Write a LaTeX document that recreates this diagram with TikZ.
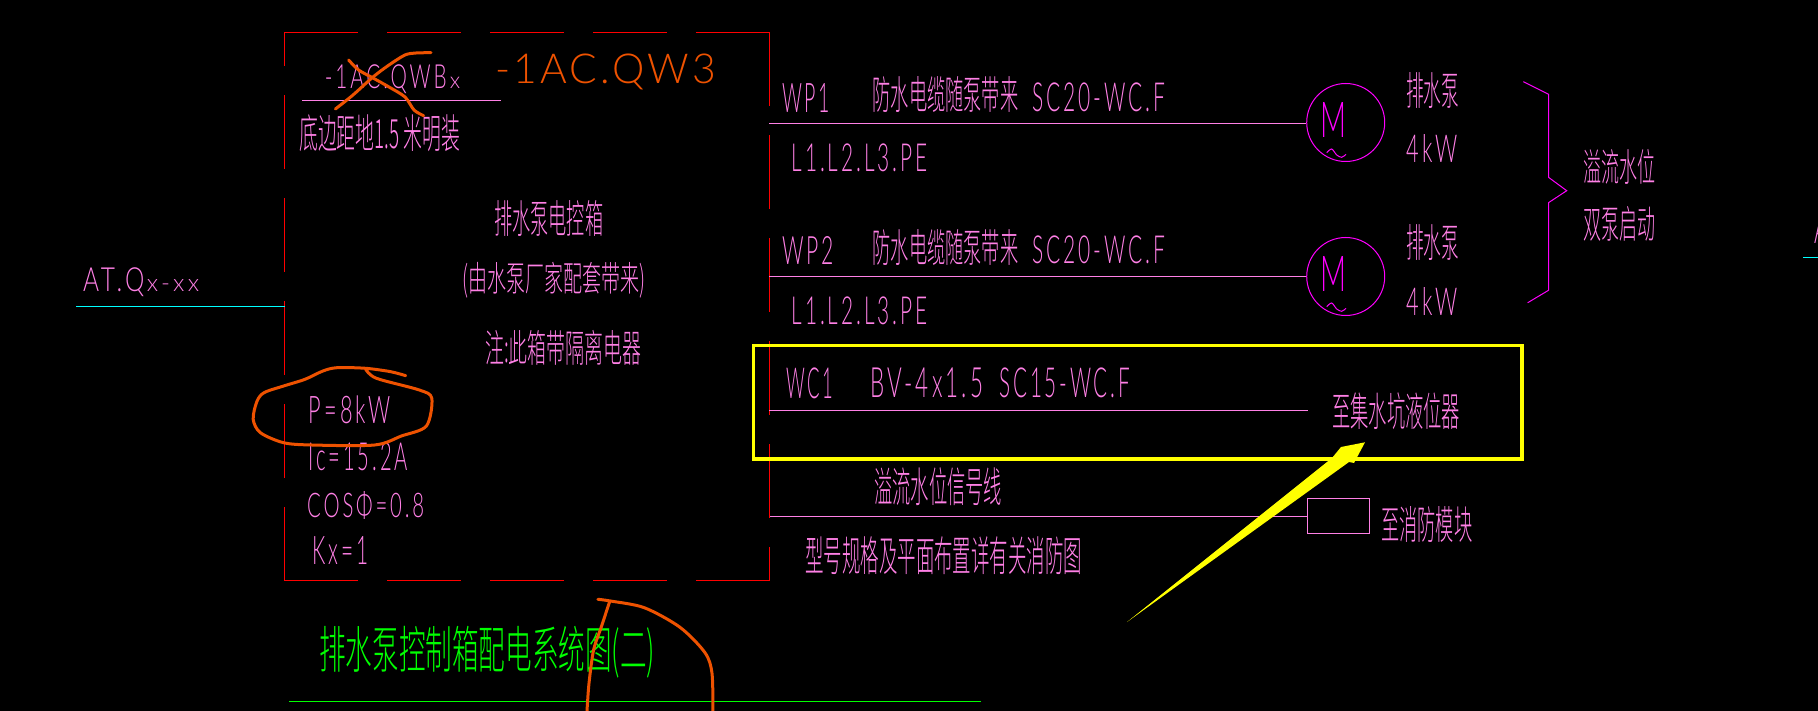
\documentclass[tikz,border=0pt]{standalone}
\usepackage{graphicx}
\usepackage{fontspec}
\setmainfont{Lato Light}[LetterSpace=14]
\newfontfamily\cjk{Noto Sans CJK SC Light}
\newfontfamily\tagfont{Lato Light}[LetterSpace=8]
\newfontfamily\onechar{Lato Light}
\usetikzlibrary{positioning}
\definecolor{cadpink}{HTML}{FF80E6}
\definecolor{cadmag}{HTML}{FF00FF}
\definecolor{cadorange}{HTML}{EE5200}
\definecolor{cadcyan}{HTML}{00FFFF}
\definecolor{cadyellow}{HTML}{FFFF00}
\definecolor{cadgreen}{HTML}{00FF00}
\newcommand{\cadfit}[3]{\resizebox*{#1pt}{#2pt}{#3}}
\tikzset{
  cad/.style={anchor=west,inner sep=0pt,text=cadpink},
  wire/.style={draw=cadpink,line width=1pt},
  boxline/.style={draw=red,line width=1pt,dash pattern=on 73.5pt off 29.5pt},
  motor/.style={circle,draw=cadmag,line width=1pt,minimum size=78pt,inner sep=0pt},
  scribble/.style={draw=cadorange,line width=3pt,line join=round,line cap=round}
}
\begin{document}
\begin{tikzpicture}[x=1pt,y=-1pt]
        \fill[black] (0,0) rectangle (1818,711);
        \useasboundingbox (0,0) rectangle (1818,711);
        % box
        \path
        +(527,306.5) node[minimum width=485pt,minimum height=548pt,inner sep=0pt] (box) {}
        +(76,306.5) coordinate (feedstart)
        +(284.5,306.5) coordinate (feedend)
        +(302,100.5) coordinate (tagstart)
        +(500.7,100.5) coordinate (tagend)
        +(769,123.5) coordinate (wpastart)
        +(769,276.5) coordinate (wpbstart)
        +(769,410.5) coordinate (wcstart)
        +(1308,410.5) coordinate (wcend)
        +(770,516.5) coordinate (sigstart)
        +(1803,257.5) coordinate (edgestart)
        +(1818,257.5) coordinate (edgeend)
        +(289,701.5) coordinate (titlestart)
        +(981,701.5) coordinate (titleend);
        \draw[boxline] (box.north west)--(box.north east);
        \draw[boxline] (box.south west)--(box.south east);
        \draw[boxline] (box.south west)--(box.north west);
        \draw[boxline] (box.north east)--(box.south east);
        % left text
        \path
        +(83,282.5) node[cad] (feed) {\cadfit{116}{29}{AT.Q\hspace{1pt}\resizebox*{21.4pt}{3.6pt}{x-xx}}}
        +(495,72) node[cad,text=cadorange] (tagnew) {\cadfit{221}{36}{\tagfont -1AC.QW3}}
        +(324.6,79.5) node[cad] (tagold) {\cadfit{135.4}{29}{-1AC.QWB\hspace{1.5pt}\resizebox*{5pt}{3.4pt}{x}}}
        +(299,133.5) node[cad] (mount) {\cadfit{161}{37}{\cjk 底边距地1.5 米明装}}
        +(494,218) node[cad] (namea) {\cadfit{109}{36}{\cjk 排水泵电控箱}}
        +(462,280) node[cad] (nameb) {\cadfit{183}{36}{\cjk (由水泵厂家配套带来)}}
        +(485,347.5) node[cad] (namec) {\cadfit{156}{35}{\cjk 注:此箱带隔离电器}}
        +(308.6,410) node[cad] (power) {\cadfit{82}{28}{P=8kW}}
        +(308.6,457) node[cad] (current) {\cadfit{99}{28}{Ic=15.2A}}
        +(307,505) node[cad] (factor) {\cadfit{117}{28}{COSΦ=0.8}}
        +(312,550) node[cad] (demand) {\cadfit{56}{28}{Kx=1}}
        +(319,652) node[cad,text=cadgreen] (title) {\cadfit{336}{52}{\cjk 排水泵控制箱配电系统图(二)}};
        \draw[wire,draw=cadcyan] (feedstart)--(feedend);
        \draw[wire] (tagstart)--(tagend);
        \draw[wire,draw=cadgreen] (titlestart)--(titleend);
        % pumps
        \path
        +(1345.7,122.5) node[motor] (ma) {}
        +(1345.7,276.5) node[motor] (mb) {}
        +(1333.5,120.5) node[inner sep=0pt,text=cadmag] (mla) {\cadfit{26}{35}{\onechar M}}
        +(1333.5,274) node[inner sep=0pt,text=cadmag] (mlb) {\cadfit{26}{35}{\onechar M}}
        +(782,97.5) node[cad] (wpa) {\cadfit{48}{29}{WP1}}
        +(872.5,95) node[cad] (cablea) {\cadfit{145.5}{36}{\cjk 防水电缆随泵带来}}
        +(1032,97.5) node[cad] (pipea) {\cadfit{133}{29}{SC20-WC.F}}
        +(791.4,158) node[cad] (phasea) {\cadfit{136}{28}{L1.L2.L3.PE}}
        +(782,250) node[cad] (wpb) {\cadfit{52}{28}{WP2}}
        +(872.5,248) node[cad] (cableb) {\cadfit{145.5}{36}{\cjk 防水电缆随泵带来}}
        +(1032,250) node[cad] (pipeb) {\cadfit{133}{28}{SC20-WC.F}}
        +(791.4,311) node[cad] (phaseb) {\cadfit{136}{28}{L1.L2.L3.PE}}
        +(1406,91) node[cad] (pumpa) {\cadfit{53}{36}{\cjk 排水泵}}
        +(1406.7,148) node[cad] (kwa) {\cadfit{51}{28}{4kW}}
        +(1406,243) node[cad] (pumpb) {\cadfit{53}{36}{\cjk 排水泵}}
        +(1406.7,301) node[cad] (kwb) {\cadfit{51}{28}{4kW}}
        +(1583,166.5) node[cad] (flooda) {\cadfit{72}{35}{\cjk 溢流水位}}
        +(1583,223.5) node[cad] (floodb) {\cadfit{72}{35}{\cjk 双泵启动}}
        +(1814,229) node[cad] (edge) {\cadfit{14}{28}{\onechar A}};
        \draw[wire] (wpastart)--(wpastart -| ma.west);
        \draw[wire] (wpbstart)--(wpbstart -| mb.west);
        \draw[wire,draw=cadcyan] (edgestart)--(edgeend);
        \draw[draw=cadmag,line width=1pt] plot[smooth] coordinates {(1326.7,152.7) (1331.7,149) (1336.7,155) (1341.7,157.3) (1346,154.3)};
        \draw[draw=cadmag,line width=1pt] plot[smooth] coordinates {(1326.7,306.7) (1331.7,303) (1336.7,309) (1341.7,311.3) (1346,308.3)};
        \draw[draw=cadmag,line width=1pt] (1523.3,81.7)--(1548.5,94.3)--(1548.5,177.3)--(1566.7,190.7)--(1548.5,202.7)--(1548.5,290.3)--(1527.7,302.7);
        % signal
        \path
        +(1338.5,516) node[draw=cadpink,line width=1pt,minimum width=62pt,minimum height=35pt,inner sep=0pt] (module) {}
        +(786,383.5) node[cad] (wc) {\cadfit{47}{31}{WC1}}
        +(870,383) node[cad] (cablec) {\cadfit{113}{30}{BV-4x1.5}}
        +(999,383) node[cad] (pipec) {\cadfit{131}{30}{SC15-WC.F}}
        +(1332,411.5) node[cad] (sump) {\cadfit{128}{37}{\cjk 至集水坑液位器}}
        +(874,487) node[cad] (signal) {\cadfit{128}{38}{\cjk 溢流水位信号线}}
        +(1381,525) node[cad] (fire) {\cadfit{91}{36}{\cjk 至消防模块}}
        +(805,556) node[cad] (spec) {\cadfit{277}{38}{\cjk 型号规格及平面布置详有关消防图}};
        \draw[wire] (wcstart)--(wcend);
        \draw[wire] (sigstart)--(sigstart -| module.west);
        % marks
        \path
        +(753.5,345.5) coordinate (marka)
        +(1522,459) coordinate (markb)
        +(1127,622) coordinate (arrowtail)
        +(1365,442.3) coordinate (arrowtip);
        \draw[cadyellow,line width=3.4pt] (marka) rectangle (markb);
        \fill[cadyellow] (arrowtail)--(1332,458)--(1341,447)--(arrowtip)--(1354,463)--(1349,462)--cycle;
        \draw[scribble] plot[smooth] coordinates {(335.4,109) (353,95) (373,77) (389,65) (405,55) (416,53) (431,52.7)};
        \draw[scribble] plot[smooth] coordinates {(348.6,60) (358.6,70) (373,78) (389,87) (405,97) (414,110) (423.6,115.7)};
        \draw[scribble] plot[smooth] coordinates {(405.7,375.7) (390.7,371.7) (365.7,368.3) (337,367.7) (322.9,371) (305,379.3) (283.6,386) (264,392.7) (256.8,401.7) (253.2,419.3) (260.4,432.7) (283.6,442.7) (312,445) (374.6,445) (401.4,436) (426.4,426) (431.8,398.3) (419.3,390) (376.4,378.3) (365.7,369.3)};
        \draw[scribble] plot[smooth] coordinates {(597.9,599.3) (610.4,601) (644.3,607.7) (680,627.3) (705,652.7) (712,673.3) (712.9,711)};
        \draw[scribble] plot[smooth] coordinates {(609.6,601.7) (601.4,626.7) (593.6,650) (589,683.3) (587,711)};
    \end{tikzpicture}
\end{document}
